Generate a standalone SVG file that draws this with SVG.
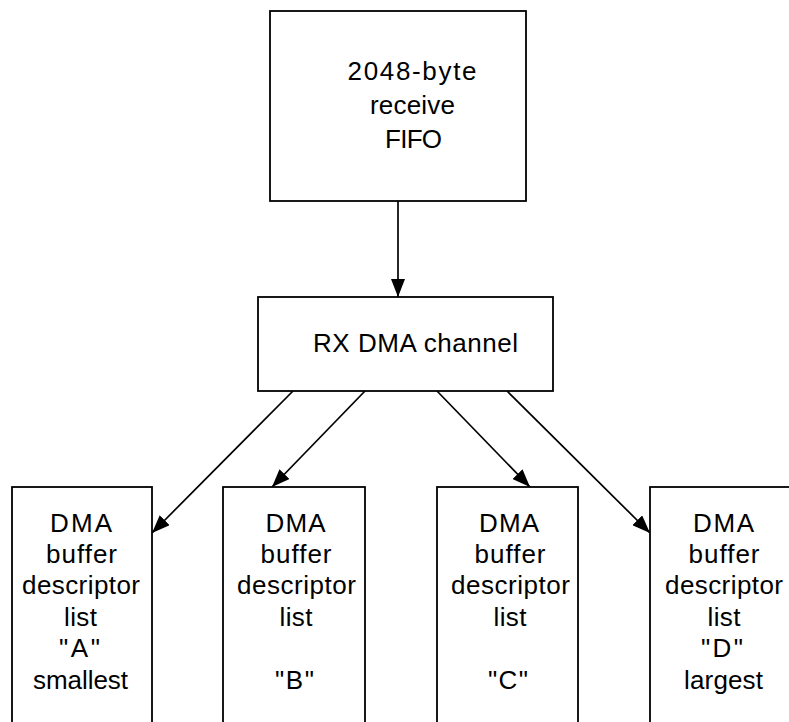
<svg xmlns="http://www.w3.org/2000/svg" width="789" height="722" viewBox="0 0 789 722">
<style>
.box{fill:#fff;stroke:#000;stroke-width:1.8}
.t{font-family:"Liberation Sans",Arial,sans-serif;font-size:26px;fill:#000;text-anchor:middle}
.c{stroke:#000;stroke-width:1.7;fill:none;marker-end:url(#ah)}
</style>
<defs>
<marker id="ah" markerUnits="userSpaceOnUse" markerWidth="18" markerHeight="14" refX="18" refY="7" orient="auto">
<path d="M0,0 L18,7 L0,14 z" fill="#000"/>
</marker>
</defs>
<rect width="789" height="722" fill="#fff"/>
<g id="connectors">
<line class="c" x1="398" y1="201" x2="398" y2="297"/>
<line class="c" x1="293" y1="391" x2="152" y2="533"/>
<line class="c" x1="365" y1="391" x2="272" y2="487"/>
<line class="c" x1="437" y1="391" x2="530" y2="487"/>
<line class="c" x1="507" y1="391" x2="650" y2="533"/>
</g>
<g id="fifo">
<rect class="box" x="270" y="11" width="256" height="190"/>
<text class="t" x="412" y="80" textLength="129" lengthAdjust="spacing">2048-byte</text>
<text class="t" x="412.5" y="114" textLength="85" lengthAdjust="spacing">receive</text>
<text class="t" x="413.5" y="148" textLength="57" lengthAdjust="spacing">FIFO</text>
</g>
<g id="rxdma">
<rect class="box" x="258" y="297" width="295" height="94"/>
<text class="t" x="415.5" y="352" textLength="205" lengthAdjust="spacing">RX DMA channel</text>
</g>
<g id="listA">
<rect class="box" x="12" y="487" width="140" height="250"/>
<text class="t" x="81" y="532" textLength="62" lengthAdjust="spacing">DMA</text>
<text class="t" x="81.5" y="563" textLength="71" lengthAdjust="spacing">buffer</text>
<text class="t" x="81" y="594" textLength="118" lengthAdjust="spacing">descriptor</text>
<text class="t" x="80.5" y="626" textLength="33" lengthAdjust="spacing">list</text>
<text class="t" x="79.5" y="657" textLength="41" lengthAdjust="spacing">"A"</text>
<text class="t" x="80.5" y="689" textLength="95" lengthAdjust="spacing">smallest</text>
</g>
<g id="listB">
<rect class="box" x="223" y="487" width="142" height="250"/>
<text class="t" x="295.5" y="532" textLength="60" lengthAdjust="spacing">DMA</text>
<text class="t" x="296" y="563" textLength="71" lengthAdjust="spacing">buffer</text>
<text class="t" x="296.5" y="594" textLength="119" lengthAdjust="spacing">descriptor</text>
<text class="t" x="296" y="626" textLength="33" lengthAdjust="spacing">list</text>
<text class="t" x="294.5" y="689" textLength="39" lengthAdjust="spacing">"B"</text>
</g>
<g id="listC">
<rect class="box" x="437" y="487" width="141" height="250"/>
<text class="t" x="509" y="532" textLength="60" lengthAdjust="spacing">DMA</text>
<text class="t" x="510" y="563" textLength="71" lengthAdjust="spacing">buffer</text>
<text class="t" x="510.5" y="594" textLength="119" lengthAdjust="spacing">descriptor</text>
<text class="t" x="510" y="626" textLength="33" lengthAdjust="spacing">list</text>
<text class="t" x="508" y="689" textLength="40" lengthAdjust="spacing">"C"</text>
</g>
<g id="listD">
<rect class="box" x="650" y="487" width="142" height="250"/>
<text class="t" x="723.5" y="532" textLength="61" lengthAdjust="spacing">DMA</text>
<text class="t" x="724" y="563" textLength="71" lengthAdjust="spacing">buffer</text>
<text class="t" x="724" y="594" textLength="118" lengthAdjust="spacing">descriptor</text>
<text class="t" x="724" y="626" textLength="33" lengthAdjust="spacing">list</text>
<text class="t" x="722" y="657" textLength="42" lengthAdjust="spacing">"D"</text>
<text class="t" x="723.5" y="689" textLength="79" lengthAdjust="spacing">largest</text>
</g>
</svg>
